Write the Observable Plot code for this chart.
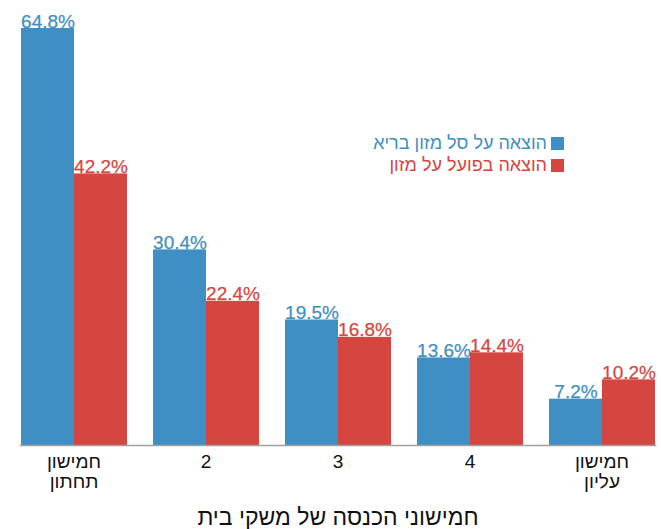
<!DOCTYPE html>
<html lang="he">
<head>
<meta charset="utf-8">
<script src="https://cdn.jsdelivr.net/npm/d3@7"></script>
<script src="https://cdn.jsdelivr.net/npm/@observablehq/plot@0.6"></script>
<style>
  html, body { margin: 0; padding: 0; background: #fff; }
  #wrap { position: relative; width: 661px; height: 529px; font-family: "Liberation Sans", Arial, sans-serif; }
  #legend { position: absolute; right: 97px; top: 132px; font-size: 18px; line-height: 22px; direction: rtl; }
  #legend div { display: flex; align-items: center; gap: 4px; height: 22px; }
  #legend span.sw { display: inline-block; width: 13px; height: 13px; }
</style>
</head>
<body>
<div id="wrap"><div id="legend"></div></div>
<script>
const categories = ["חמישון\nתחתון", "2", "3", "4", "חמישון\nעליון"];
const seriesNames = ["הוצאה על סל מזון בריא", "הוצאה בפועל על מזון"];
const healthyBasket = [64.8, 30.4, 19.5, 13.6, 7.2];
const actualSpending = [42.2, 22.4, 16.8, 14.4, 10.2];
const seriesColors = ["#3f8fc4", "#d64641"];
const xTitle = "חמישוני הכנסה של משקי בית";

const data = categories.flatMap((c, i) => [
  {cat: c, series: seriesNames[0], value: healthyBasket[i]},
  {cat: c, series: seriesNames[1], value: actualSpending[i]}
]);

const color = d3.scaleOrdinal(seriesNames, seriesColors);

const chart = Plot.plot({
  width: 661,
  height: 529,
  marginLeft: 19,
  marginRight: 5,
  marginTop: 28,
  marginBottom: 84,
  style: {fontFamily: '"Liberation Sans", Arial, sans-serif', background: "#fff"},
  fx: {domain: categories, paddingInner: 0.19, paddingOuter: 0, label: null},
  x: {domain: seriesNames, padding: 0, axis: null},
  y: {domain: [0, 64.8], axis: null},
  color: {domain: seriesNames, range: seriesColors},
  marks: [
    Plot.barY(data, {fx: "cat", x: "series", y: "value", fill: "series"}),
    Plot.text(data, {fx: "cat", x: "series", y: "value", text: d => d.value.toFixed(1) + "%",
      fill: d => color(d.series), stroke: d => color(d.series), strokeWidth: 0.25,
      lineAnchor: "bottom", dy: -1, fontSize: 19}),
    Plot.axisFx({anchor: "bottom", tickSize: 0, tickPadding: 8, fontSize: 19, lineHeight: 1.05,
      label: xTitle, labelAnchor: "center", labelOffset: 79, color: "#111"}),
    Plot.frame({anchor: "bottom", facet: "super", stroke: "#a0a0a0", strokeWidth: 1.5})
  ]
});

d3.select(chart).selectAll("g[aria-label='fx-axis label'] text").attr("font-size", 23);

document.getElementById("wrap").prepend(chart);

const legend = document.getElementById("legend");
seriesNames.forEach((s, i) => {
  const row = document.createElement("div");
  row.style.color = seriesColors[i];
  const sw = document.createElement("span");
  sw.className = "sw";
  sw.style.background = seriesColors[i];
  const t = document.createElement("span");
  t.textContent = s;
  row.appendChild(sw);
  row.appendChild(t);
  legend.appendChild(row);
});
</script>
</body>
</html>
